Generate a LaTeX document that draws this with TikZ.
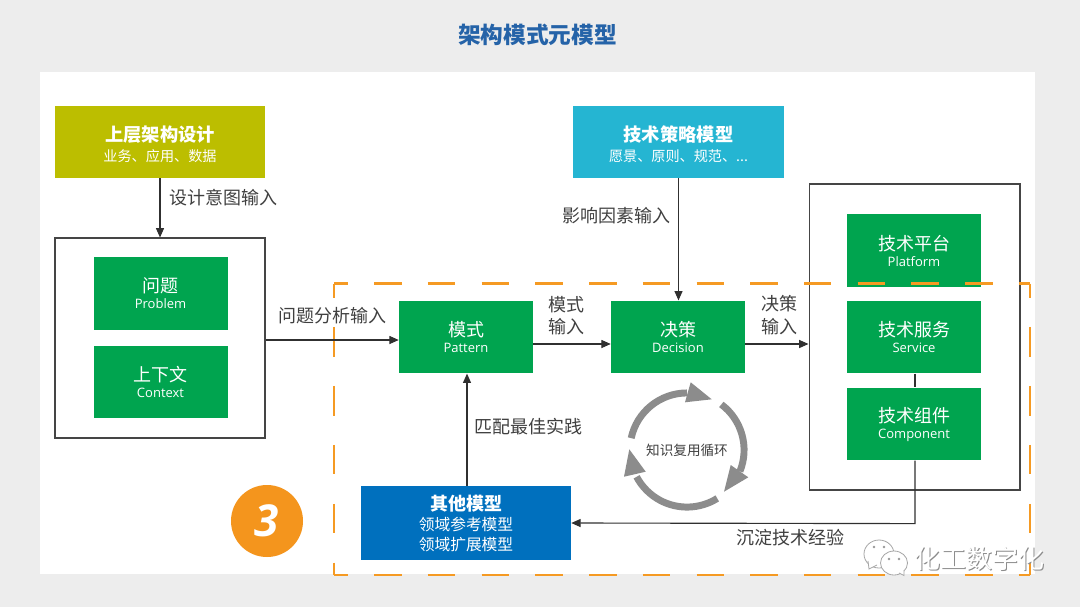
\documentclass[tikz,border=0pt]{standalone}
\usepackage{fontspec}
\usetikzlibrary{arrows.meta,calc}
\setmainfont{Noto Sans CJK SC}
\newfontfamily\latin{Open Sans}
\newfontfamily\heavylatin{Open Sans}
\definecolor{pagegray}{HTML}{EDEDED}
\definecolor{titleblue}{HTML}{2563A8}
\definecolor{olivebox}{HTML}{BCBE00}
\definecolor{cyanbox}{HTML}{25B5D2}
\definecolor{greenbox}{HTML}{00A44F}
\definecolor{bluebox}{HTML}{0070BE}
\definecolor{dashorange}{HTML}{F59A23}
\definecolor{badge}{HTML}{F4951D}
\definecolor{loopgray}{HTML}{8C8C8C}
\definecolor{labelgray}{HTML}{404040}
\definecolor{linegray}{HTML}{303030}
\newcommand{\tl}[2]{{\fontsize{13.5}{16}\selectfont #1}\\[0pt]{\latin\fontsize{9.75}{12}\selectfont #2}}
\newcommand{\thead}[2]{\rule{0pt}{15pt}{\fontsize{13.7}{16}\selectfont\bfseries #1}\\[2.5pt]{\fontsize{10.6}{13}\selectfont #2}}
\tikzset{
  x=0.75pt,y=-0.75pt,
  greenb/.style={fill=greenbox,text=white,minimum width=100.5pt,minimum height=54.5pt,inner sep=0pt,align=center},
  topb/.style={text=white,minimum width=157.5pt,minimum height=54pt,inner sep=0pt,align=center},
  framebox/.style={draw=linegray!90,line width=0.8pt,fill=white,inner sep=0pt},
  lab/.style={text=labelgray,font=\fontsize{13.5}{15}\selectfont,inner sep=0pt},
  conn/.style={draw=linegray,line width=0.85pt,-{Triangle[length=7pt,width=6pt]}},
  plainconn/.style={draw=linegray,line width=0.85pt},
  hdash/.style={draw=dashorange,line width=1.9pt,dash pattern=on 20.6pt off 19.7pt,dash phase=10.2pt},
  vdash/.style={draw=dashorange,line width=1.9pt,dash pattern=on 22.2pt off 22pt,dash phase=11.6pt},
  looparc/.style={draw=loopgray,line width=5.2pt},
  loophead/.style={fill=loopgray},
  bubble/.style={draw=black!35,fill=white,line width=0.6pt},
  eye/.style={fill=black!40}
}
\begin{document}
\begin{tikzpicture}
\useasboundingbox (0,0) rectangle (1080,607);
\fill[pagegray] (0,0) rectangle (1080,607);
\fill[white] (40,72) rectangle (1035,574);

\node[text=titleblue,font=\fontsize{17}{20}\selectfont\bfseries,inner sep=0pt] (title) at (537.5,35) {架构模式元模型};

% frames
\node[framebox,minimum width=157.5pt,minimum height=150pt] (frameL) at (160,338) {};
\node[framebox,minimum width=158.2pt,minimum height=229.5pt] (frameR) at (914.5,337) {};

% upper boxes
\node[topb,fill=olivebox] (upper) at (160,142) {\thead{上层架构设计}{业务、应用、数据}};
\node[topb,fill=cyanbox,minimum width=158.2pt] (tech) at (678.5,142) {\thead{技术策略模型}{愿景、原则、规范、...}};

% green boxes
\node[greenb] (problem) at (160.5,293.5) {\tl{问题}{Problem}};
\node[greenb] (context) at (160.5,382) {\tl{上下文}{Context}};
\node[greenb] (pattern) at (466,337) {\tl{模式}{Pattern}};
\node[greenb] (decision) at (678,337) {\tl{决策}{Decision}};
\node[greenb] (platform) at (914,250.5) {\tl{技术平台}{Platform}};
\node[greenb] (service) at (914,337) {\tl{技术服务}{Service}};
\node[greenb] (component) at (914,424) {\tl{技术组件}{Component}};

% other models
\node[fill=bluebox,text=white,minimum width=157.5pt,minimum height=55.5pt,inner sep=0pt,align=center] (other) at (466,523)
  {{\fontsize{13.5}{16}\selectfont\bfseries 其他模型}\\[3pt]{\fontsize{11.8}{14}\selectfont 领域参考模型}\\[3pt]{\fontsize{11.8}{14}\selectfont 领域扩展模型}};

% dashed region
\coordinate (dTL) at (334,283.5);
\coordinate (dTR) at (1030,283.5);
\coordinate (dBL) at (334,575);
\coordinate (dBR) at (1030,575);
\draw[hdash] (dTL) -- (dTR);
\draw[hdash] (dBL) -- (dBR);
\draw[vdash] (dTL) -- (dBL);
\draw[vdash] (dTR) -- (dBR);

% connectors
\draw[conn] (upper.south) -- (upper.south |- frameL.north);
\draw[conn] (tech.south) -- (tech.south |- decision.north);
\draw[conn] ([yshift=-1.5pt]frameL.east) -- ([yshift=-2.25pt]pattern.west);
\draw[conn] ([yshift=-5.25pt]pattern.east) -- ([yshift=-5.25pt]decision.west);
\draw[conn] ([yshift=-5.25pt]decision.east) -- ([yshift=-5.25pt]decision.east -| frameR.west);
\draw[conn] ([xshift=0.75pt]other.north) -- ([xshift=0.75pt]pattern.south);
\draw[plainconn] ([xshift=0.75pt]service.south) -- ([xshift=0.75pt]component.north);
\coordinate (bend) at ($(component.south)+(0.75pt,-47.25pt)$);
\draw[conn] ([xshift=0.75pt]component.south) -- (bend) -- (other.east);

% labels
\node[lab] (l1) at (223.5,198) {设计意图输入};
\node[lab] (l2) at (616,216) {影响因素输入};
\node[lab] (l3) at (332,316) {问题分析输入};
\node[lab] (l4) at (566,305) {模式};
\node[lab] (l5) at (566,327) {输入};
\node[lab] (l6) at (779,304) {决策};
\node[lab] (l7) at (779,327) {输入};
\node[lab] (l8) at (528.5,427) {匹配最佳实践};
\node[lab] (l9) at (790,538) {沉淀技术经验};
\node[lab,font=\fontsize{10.2}{12}\selectfont] (l10) at (687,450) {知识复用循环};

% knowledge loop
\coordinate (c) at (687,450);
\draw[looparc] ($(c)+(168:42.8pt)$) arc[start angle=168,end angle=90,radius=42.8pt];
\fill[loophead] (690.7,382.3) -- (711.7,399.3) -- (685,402.3) -- cycle;
\draw[looparc] ($(c)+(53:42.8pt)$) arc[start angle=53,end angle=-22,radius=42.8pt];
\fill[loophead] (748.3,477.3) -- (724,491.7) -- (730.7,465) -- cycle;
\draw[looparc] ($(c)+(-58:42.8pt)$) arc[start angle=-58,end angle=-152,radius=42.8pt];
\fill[loophead] (629.3,449.3) -- (645.7,471.7) -- (624,476.7) -- cycle;

% badge
\node[circle,fill=badge,text=white,minimum size=54pt,inner sep=0pt,font=\heavylatin\fontsize{33}{36}\selectfont\bfseries\itshape] (three) at (267,521) {3};

% watermark
\draw[bubble] (879,554) ellipse[x radius=15,y radius=14];
\draw[bubble] (868,561) -- (869,569) -- (877,565);
\fill[eye] (874,547) circle[radius=1.4];
\fill[eye] (884,547) circle[radius=1.4];
\draw[bubble] (894,563) ellipse[x radius=13.5,y radius=12];
\draw[bubble] (899,573) -- (904,575.5) -- (904,570);
\fill[eye] (889,559) circle[radius=1.4];
\fill[eye] (899,559) circle[radius=1.4];
\node[text=black!45,font=\fontsize{19.5}{22}\selectfont,inner sep=0pt] (wmshadow) at (980.5,560) {化工数字化};
\node[text=white,font=\fontsize{19.5}{22}\selectfont,inner sep=0pt] (wm) at (979.5,559) {化工数字化};
\end{tikzpicture}
\end{document}
